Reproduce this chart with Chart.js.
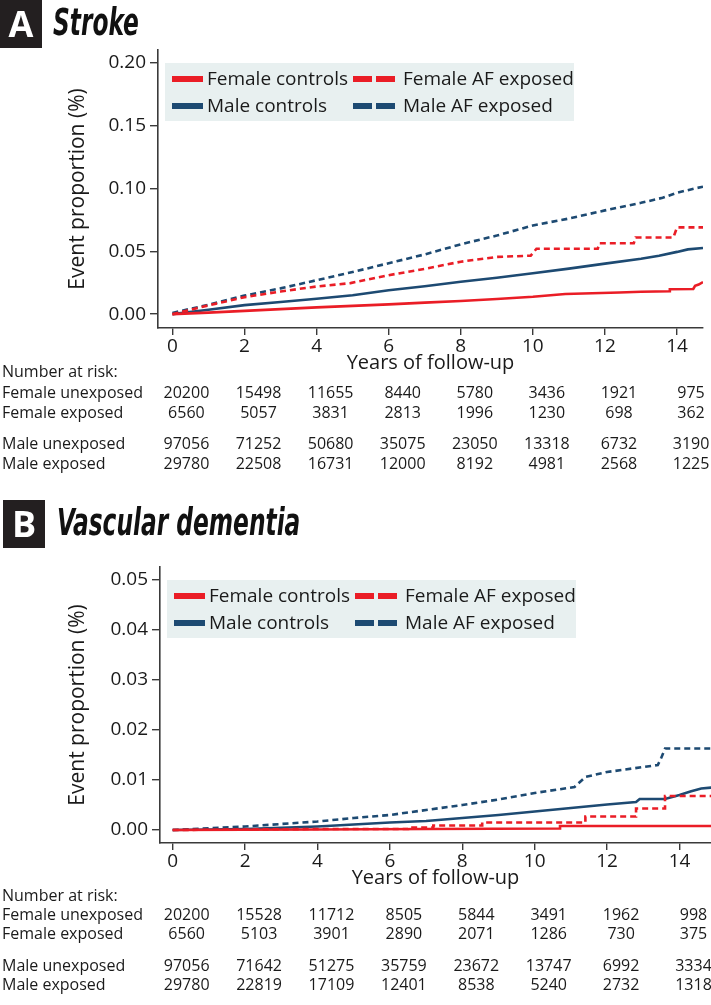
<!DOCTYPE html>
<html lang="en">
<head>
<meta charset="UTF-8">
<title>Stroke and vascular dementia by sex and AF exposure</title>
<script src="https://cdn.jsdelivr.net/npm/chart.js"></script>
<style>
  body { margin: 0; background: #fff; width: 711px; height: 1005px; position: relative; overflow: hidden; }
  canvas { position: absolute; left: 0; }
  #strokeChart { top: 0; }
  #dementiaChart { top: 490px; }
  .tag { position: absolute; z-index: 2; width: 42px; height: 48px; background: #231f20; color: #fff;
         font: bold 36px "Open Sans", sans-serif; line-height: 48px; text-align: center; }
  .heading { position: absolute; z-index: 2; color: #111; white-space: nowrap; transform-origin: 0 50%;
             transform: scaleX(0.70);
             font: italic bold 37px "Liberation Sans Narrow", "DejaVu Sans Condensed", sans-serif; }
</style>
</head>
<body>
<div class="tag" style="left:0;top:0">A</div>
<div class="heading" style="left:53px;top:1px">Stroke</div>
<div class="tag" style="left:3px;top:500px">B</div>
<div class="heading" style="left:57px;top:501px">Vascular dementia</div>

<canvas id="strokeChart"></canvas>
<canvas id="dementiaChart"></canvas>

<script>
// series labels
const seriesLabels = ['Female controls', 'Female AF exposed', 'Male controls', 'Male AF exposed'];

// Stroke: [years, event proportion]
const strokeFemaleControls = [[0,0],[1,0.0012],[2,0.0026],[3,0.004],[4,0.0054],[5,0.0066],[6,0.0078],[7,0.0092],[8,0.0105],[9,0.012],[10,0.0138],[10.9,0.016],[12.4,0.0172],[13,0.0178],[13.8,0.0182],[13.8,0.0198],[14.45,0.02],[14.5,0.0225],[14.6,0.0235],[14.72,0.0255]];
const strokeFemaleExposed = [[0,0],[1,0.007],[2,0.0135],[3,0.018],[4,0.022],[4.94,0.0247],[6,0.031],[7,0.036],[8,0.0417],[9,0.0455],[9.94,0.0465],[10.1,0.052],[11.8,0.052],[11.85,0.0564],[12.8,0.0564],[12.85,0.061],[13.9,0.061],[14,0.069],[14.72,0.069]];
const strokeMaleControls = [[0,0],[1,0.0035],[2,0.0072],[3,0.0097],[4,0.0122],[5,0.015],[6,0.019],[7,0.0222],[8,0.0257],[9,0.029],[10,0.0325],[11,0.0362],[12,0.0402],[13,0.044],[13.5,0.0465],[14,0.0495],[14.3,0.0515],[14.72,0.0526]];
const strokeMaleExposed = [[0,0.001],[1,0.0075],[2,0.0148],[3,0.0205],[4,0.027],[5,0.0335],[6,0.0405],[7,0.0475],[8,0.0555],[9,0.0625],[10,0.0705],[11,0.076],[12,0.0825],[13,0.0885],[13.6,0.0925],[14,0.0965],[14.5,0.1],[14.72,0.1013]];

// Vascular dementia: [years, event proportion]
const dementiaFemaleControls = [[0,0],[4,0.0001],[7,0.0002],[10.7,0.0003],[10.7,0.0008],[14.9,0.0008]];
const dementiaFemaleExposed = [[0,0],[4,0.0002],[6.5,0.0002],[6.5,0.0005],[7.2,0.0005],[7.2,0.0009],[8.55,0.0009],[8.55,0.0015],[11.4,0.0015],[11.4,0.0027],[12.8,0.0027],[12.8,0.0043],[13.6,0.0043],[13.6,0.0068],[14.9,0.0068]];
const dementiaMaleControls = [[0,0],[2,0.0002],[4,0.0007],[6,0.0015],[7,0.0018],[8,0.0024],[9,0.003],[10,0.0037],[11,0.0044],[12,0.0051],[12.8,0.0056],[12.9,0.0062],[13.6,0.0062],[14,0.007],[14.3,0.0077],[14.6,0.0083],[14.9,0.0085]];
const dementiaMaleExposed = [[0,0],[2,0.0007],[4,0.0017],[5,0.0024],[6,0.003],[7,0.004],[8,0.005],[9,0.0061],[10,0.0074],[11.1,0.0086],[11.4,0.0106],[12,0.0116],[12.5,0.0121],[13.4,0.013],[13.5,0.0145],[13.6,0.0163],[14.9,0.0163]];

// axis ticks
const xTicks = [0, 2, 4, 6, 8, 10, 12, 14];
const strokeYTicks = [0, 0.05, 0.10, 0.15, 0.20];
const dementiaYTicks = [0, 0.01, 0.02, 0.03, 0.04, 0.05];

// number at risk table
const riskYears = [0, 2, 4, 6, 8, 10, 12, 14];
const riskGroups = ['Female unexposed', 'Female exposed', 'Male unexposed', 'Male exposed'];
const strokeRisk = [
  [20200, 15498, 11655, 8440, 5780, 3436, 1921, 975],
  [6560, 5057, 3831, 2813, 1996, 1230, 698, 362],
  [97056, 71252, 50680, 35075, 23050, 13318, 6732, 3190],
  [29780, 22508, 16731, 12000, 8192, 4981, 2568, 1225]
];
const dementiaRisk = [
  [20200, 15528, 11712, 8505, 5844, 3491, 1962, 998],
  [6560, 5103, 3901, 2890, 2071, 1286, 730, 375],
  [97056, 71642, 51275, 35759, 23672, 13747, 6992, 3334],
  [29780, 22819, 17109, 12401, 8538, 5240, 2732, 1318]
];

const RED = '#ea1d26';
const BLUE = '#1d4a72';
const INK = '#1a1a1a';
const AXIS = '#3a3a3a';
const FONT = '"Open Sans", sans-serif';
const XAXIS_H = 47;

// legend drawn as a shaded box inside the plot, 2 x 2
const boxLegend = {
  id: 'boxLegend',
  beforeDatasetsDraw(chart) {
    const { ctx, chartArea } = chart;
    const x0 = chartArea.left + 7, y0 = chartArea.top + 13;
    ctx.save();
    ctx.fillStyle = '#e8f0f0';
    ctx.fillRect(x0, y0, 409, 58);
    ctx.font = '19px ' + FONT;
    ctx.textBaseline = 'middle';
    chart.data.datasets.forEach((ds, i) => {
      const col = i % 2, row = Math.floor(i / 2);
      const y = y0 + 16 + row * 27;
      const sx = col ? x0 + 188 : x0 + 7;
      const len = col ? 42 : 31;
      ctx.strokeStyle = ds.borderColor;
      ctx.lineWidth = 6;
      ctx.setLineDash(col ? [19, 4] : []);
      ctx.beginPath();
      ctx.moveTo(sx, y);
      ctx.lineTo(sx + len, y);
      ctx.stroke();
      ctx.setLineDash([]);
      ctx.fillStyle = INK;
      ctx.fillText(ds.label, col ? x0 + 238 : x0 + 42, y + 1);
    });
    ctx.restore();
  }
};

// number at risk rows under the x axis, columns follow the x scale
const riskTable = {
  id: 'riskTable',
  afterDraw(chart) {
    const opts = chart.options.plugins.riskTable;
    const { ctx, chartArea } = chart;
    const xs = chart.scales.x;
    const base = chartArea.bottom;
    ctx.save();
    ctx.font = '16px ' + FONT;
    ctx.fillStyle = INK;
    ctx.textBaseline = 'middle';
    ctx.textAlign = 'left';
    ctx.fillText('Number at risk:', 2, base + opts.rows[0]);
    opts.values.forEach((vals, r) => {
      const y = base + opts.rows[r + 1];
      ctx.textAlign = 'left';
      ctx.fillText(riskGroups[r], 2, y);
      ctx.textAlign = 'center';
      vals.forEach((v, j) => {
        ctx.fillText(String(v), xs.getPixelForValue(riskYears[j]) + 14, y);
      });
    });
    ctx.restore();
  }
};

function toPoints(arr) {
  return arr.map(p => ({ x: p[0], y: p[1] }));
}

function makeChart(id, p) {
  const canvas = document.getElementById(id);
  canvas.width = 711;
  canvas.height = p.height;
  const colors = [RED, RED, BLUE, BLUE];
  const dashes = [[], [6, 4], [], [6, 4]];
  return new Chart(canvas, {
    type: 'line',
    data: {
      datasets: p.series.map((s, i) => ({
        label: seriesLabels[i],
        data: toPoints(s),
        borderColor: colors[i],
        borderWidth: 2.6,
        borderDash: dashes[i],
        pointRadius: 0,
        tension: 0,
        fill: false
      }))
    },
    options: {
      responsive: false,
      animation: false,
      events: [],
      layout: { padding: { top: p.top, right: p.right, bottom: p.height - p.axisY - XAXIS_H, left: 0 } },
      plugins: {
        legend: { display: false },
        tooltip: { enabled: false },
        riskTable: { values: p.risk, rows: p.rows }
      },
      scales: {
        x: {
          type: 'linear',
          min: p.xMin,
          max: p.xMax,
          afterBuildTicks: s => { s.ticks = xTicks.map(v => ({ value: v })); },
          afterFit: s => { s.height = XAXIS_H; },
          border: { display: true, color: AXIS, width: 1.6 },
          grid: { drawOnChartArea: false, drawTicks: true, tickLength: 7, color: AXIS, lineWidth: 1.4 },
          ticks: { color: INK, font: { family: FONT, size: 19 }, padding: 0, maxRotation: 0 },
          title: { display: true, text: 'Years of follow-up', color: INK, font: { family: FONT, size: 20 }, padding: { top: 0, bottom: 0 } }
        },
        y: {
          type: 'linear',
          min: p.yMin,
          max: p.yMax,
          afterBuildTicks: s => { s.ticks = p.yTicks.map(v => ({ value: v })); },
          afterFit: s => { s.width = p.yWidth; },
          border: { display: true, color: AXIS, width: 1.6 },
          grid: { drawOnChartArea: false, drawTicks: true, tickLength: 8, color: AXIS, lineWidth: 1.4 },
          ticks: { color: INK, font: { family: FONT, size: 19 }, padding: 4, callback: v => v.toFixed(2) },
          title: { display: true, text: 'Event proportion (%)', color: INK, font: { family: FONT, size: 21 }, padding: { top: 65, bottom: 0 } }
        }
      }
    },
    plugins: [boxLegend, riskTable]
  });
}

makeChart('strokeChart', {
  series: [strokeFemaleControls, strokeFemaleExposed, strokeMaleControls, strokeMaleExposed],
  risk: strokeRisk,
  rows: [44, 65, 85, 116, 136],
  xMin: -0.4, xMax: 14.72,
  yMin: -0.011, yMax: 0.21, yTicks: strokeYTicks,
  yWidth: 158, top: 50, right: 8, height: 485, axisY: 328
});

makeChart('dementiaChart', {
  series: [dementiaFemaleControls, dementiaFemaleExposed, dementiaMaleControls, dementiaMaleExposed],
  risk: dementiaRisk,
  rows: [53, 72, 91, 123, 142],
  xMin: -0.35, xMax: 14.87,
  yMin: -0.0026, yMax: 0.0526, yTicks: dementiaYTicks,
  yWidth: 160, top: 77, right: 0, height: 515, axisY: 353
});
</script>
</body>
</html>
